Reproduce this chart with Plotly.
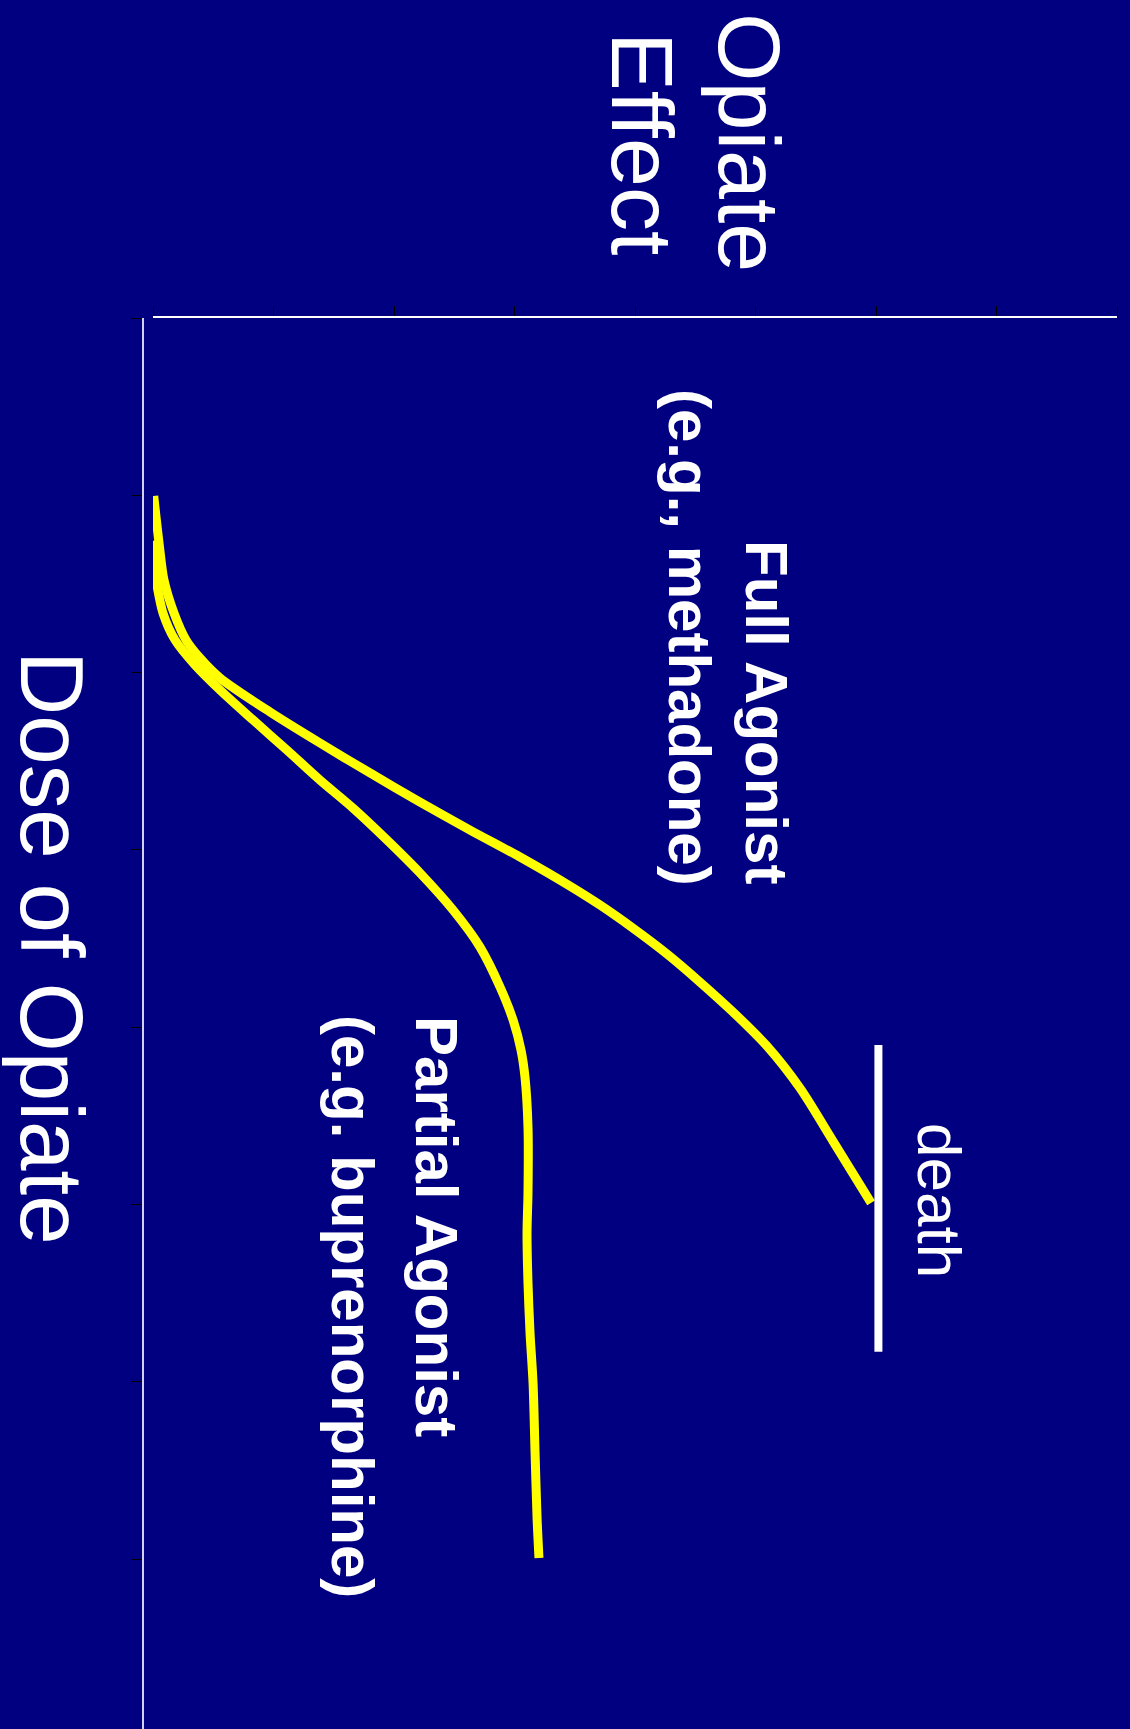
import plotly.graph_objects as go

# ---- data (effect on horizontal axis, dose on vertical axis, chart shown rotated) ----
full_effect = [0.006, 0.050, 0.091, 0.174, 0.274, 0.390, 0.556, 0.971, 1.386, 1.801,
               2.216, 2.631, 3.046, 3.461, 3.710, 3.983, 4.266, 4.539, 4.813, 5.095,
               5.369, 5.643, 5.959]
full_dose = [1.004, 1.269, 1.478, 1.664, 1.816, 1.918, 2.030, 2.222, 2.397, 2.566,
             2.730, 2.888, 3.040, 3.204, 3.311, 3.441, 3.587, 3.745, 3.914, 4.106,
             4.343, 4.642, 4.991]

partial_effect = [-0.017, 0.000, 0.025, 0.083, 0.183, 0.349, 0.556, 0.830, 1.112, 1.386,
                  1.660, 1.942, 2.216, 2.490, 2.714, 2.880, 2.988, 3.054, 3.087, 3.112,
                  3.112, 3.104, 3.112, 3.129, 3.154, 3.170, 3.187, 3.203]
partial_dose = [1.258, 1.365, 1.478, 1.664, 1.816, 1.957, 2.098, 2.267, 2.437, 2.606,
                2.764, 2.944, 3.130, 3.339, 3.548, 3.773, 3.959, 4.129, 4.281, 4.563,
                4.935, 5.161, 5.443, 5.725, 6.007, 6.385, 6.763, 6.994]

death_effect = [6.02, 6.02]
death_dose = [4.10, 5.83]

effect_ticks = [0, 1, 2, 3, 4, 5, 6, 7, 8]
dose_ticks = [0, 1, 2, 3, 4, 5, 6, 7]

# ---- layout geometry (pixels) ----
W, H = 1130, 1729
ML, MR, MT, MB = 143, 13, 318, 0
PW = W - ML - MR
PH = H - MT - MB

NAVY = "#000080"
YELLOW = "#FFFF00"
FONT = "Liberation Sans, Arial, sans-serif"

fig = go.Figure()
fig.add_trace(go.Scatter(x=full_effect, y=full_dose, mode="lines",
                         line=dict(color=YELLOW, width=9, shape="spline", smoothing=0.8),
                         hoverinfo="skip", showlegend=False))
fig.add_trace(go.Scatter(x=partial_effect, y=partial_dose, mode="lines",
                         line=dict(color=YELLOW, width=9, shape="spline", smoothing=0.8),
                         hoverinfo="skip", showlegend=False))
fig.add_trace(go.Scatter(x=death_effect, y=death_dose, mode="lines",
                         line=dict(color="white", width=8),
                         hoverinfo="skip", showlegend=False))


def px2paper(px, py):
    return (px - ML) / PW, 1 - (py - MT) / PH


def ann(text, px, py, size, bold=False):
    x, y = px2paper(px, py)
    if bold:
        text = "<b>" + text + "</b>"
    fig.add_annotation(text=text, x=x, y=y, xref="paper", yref="paper",
                       xanchor="center", yanchor="middle", showarrow=False,
                       textangle=90, font=dict(family=FONT, size=size, color="white"))


ann("Opiate", 750, 142, 88)
ann("Effect", 643, 143, 88)
ann("Dose of Opiate", 52, 948, 89)
ann("Full Agonist", 767, 712, 60, bold=True)
ann("(e.g., methadone)", 690, 637, 60, bold=True)
ann("Partial Agonist", 437, 1226, 60, bold=True)
ann("(e.g. buprenorphine)", 353, 1306, 60, bold=True)
ann("death", 940, 1200, 62)

fig.update_layout(
    width=W, height=H,
    margin=dict(l=ML, r=MR, t=MT, b=MB, pad=0, autoexpand=False),
    paper_bgcolor=NAVY, plot_bgcolor=NAVY,
    showlegend=False,
    xaxis=dict(domain=[10 / PW, 1], range=[0, 8], side="top", anchor="y",
               showline=True, linecolor="white", linewidth=2,
               ticks="outside", ticklen=10, tickcolor="black", tickwidth=1,
               tickvals=effect_ticks, showticklabels=False,
               showgrid=False, zeroline=False, automargin=False),
    yaxis=dict(anchor="free", position=0, range=[7.958, 0],
               showline=True, linecolor="#d0d0f0", linewidth=2,
               ticks="outside", ticklen=11, tickcolor="black", tickwidth=1,
               tickvals=dose_ticks, showticklabels=False,
               showgrid=False, zeroline=False, automargin=False),
)

fig.write_html("out.html")
